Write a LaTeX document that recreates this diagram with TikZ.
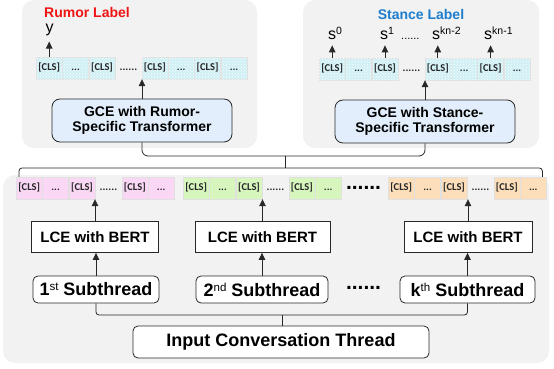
\documentclass[tikz,border=0pt]{standalone}
\usepackage{fontspec}
\setmainfont{Liberation Sans}
\newfontfamily\clsfont{Carlito}
\usetikzlibrary{arrows.meta,patterns,calc}
\definecolor{panelgray}{RGB}{242,242,242}
\definecolor{cyanfill}{RGB}{208,240,245}
\definecolor{pinkfill}{RGB}{250,215,245}
\definecolor{greenfill}{RGB}{214,246,190}
\definecolor{orangefill}{RGB}{252,222,186}
\definecolor{gcefill}{RGB}{226,238,252}
\definecolor{rumorred}{RGB}{240,20,20}
\definecolor{stanceblue}{RGB}{30,125,205}
\definecolor{linecol}{RGB}{40,40,40}
\newcommand\supx[1]{\raisebox{5pt}{\fontsize{11.5}{11.5}\mdseries\selectfont #1}}
\newcommand\slab[1]{s\raisebox{5.5pt}{\fontsize{10.5}{10.5}\selectfont #1}}
\newcommand\cellseq[4]{%
  \node[#4,anchor=west] (#1-0) at (#2,#3) {[CLS]};
  \node[#4,anchor=west] (#1-1) at (#1-0.east) {...};
  \node[#4,anchor=west] (#1-2) at (#1-1.east) {[CLS]};
  \node[gapcell,anchor=west] (#1-3) at (#1-2.east) {......};
  \node[#4,anchor=west] (#1-4) at (#1-3.east) {[CLS]};
  \node[#4,anchor=west] (#1-5) at (#1-4.east) {...};
}
\begin{document}
\begin{tikzpicture}[x=1pt,y=-1pt,
  cellbase/.style={minimum width=26pt, minimum height=22pt, inner sep=0pt,
    text height=7.5pt, text depth=2.5pt, draw=black!12, line width=0.4pt,
    font=\clsfont\bfseries\fontsize{10.5}{10.5}\selectfont, text=black!85},
  gapcell/.style={minimum width=26pt, minimum height=22pt, inner sep=0pt,
    text height=7.5pt, text depth=2.5pt,
    font=\clsfont\bfseries\fontsize{11}{11}\selectfont, text=black!85},
  cyancell/.style={cellbase, fill=cyanfill, postaction={pattern=crosshatch dots, pattern color=white!90!cyanfill}},
  pinkcell/.style={cellbase, fill=pinkfill},
  greencell/.style={cellbase, fill=greenfill},
  orangecell/.style={cellbase, fill=orangefill},
  gcebox/.style={draw=linecol, line width=0.8pt, fill=gcefill, rounded corners=8pt,
    minimum width=180pt, minimum height=43pt, align=center, inner sep=0pt,
    font=\bfseries\fontsize{14}{15.5}\selectfont},
  lcebox/.style={draw=linecol, line width=0.8pt, fill=white, minimum height=31pt, inner sep=0pt,
    font=\bfseries\fontsize{15}{15}\selectfont},
  subbox/.style={draw=linecol, line width=0.8pt, fill=white, rounded corners=5pt,
    minimum height=27pt, inner sep=0pt, font=\bfseries\fontsize{18}{18}\selectfont},
  conn/.style={draw=linecol, line width=0.8pt},
  arr/.style={conn, -{Triangle[length=7pt,width=6.5pt]}},
  biglbl/.style={font=\bfseries\fontsize{14}{14}\selectfont},
  outlbl/.style={anchor=base west, inner sep=0pt, font=\fontsize{16}{16}\selectfont},
  bigdots/.style={inner sep=0pt, font=\bfseries\fontsize{21}{21}\selectfont}
]
\useasboundingbox (0,0) rectangle (554,369);
% panels
\fill[panelgray, rounded corners=12pt] (22,0) rectangle (257,148);
\fill[panelgray, rounded corners=12pt] (303,0) rectangle (539,148);
\fill[panelgray, rounded corners=12pt] (3,175) rectangle (549,363);

% labels
\node[biglbl, text=rumorred] (RL) at (87,12) {Rumor Label};
\node[biglbl, text=stanceblue] (SL) at (421,14.5) {Stance Label};

% rumor row
\cellseq{r}{36}{68}{cyancell}
\node[cyancell,anchor=west] (r-6) at (r-5.east) {[CLS]};
\node[cyancell,anchor=west] (r-7) at (r-6.east) {...};
% stance row
\cellseq{s}{319}{69}{cyancell}
\node[cyancell,anchor=west] (s-6) at (s-5.east) {[CLS]};
\node[cyancell,anchor=west] (s-7) at (s-6.east) {...};

% output labels
\node[outlbl] (ly) at (45.5,33) {y};
\node[outlbl] (l0) at (328,40) {\slab{0}};
\node[outlbl] (l1) at (380,40) {\slab{1}};
\node[anchor=base west, inner sep=0pt, font=\fontsize{11}{11}\selectfont] (ld) at (401,40) {......};
\node[outlbl] (l2) at (432,40) {\slab{kn-2}};
\node[outlbl] (l3) at (484,40) {\slab{kn-1}};
\draw[arr, shorten >=5pt] (r-0.north) -- (r-0.north |- ly.south);
\draw[arr, shorten >=5pt] (s-0.north) -- (s-0.north |- l0.south);
\draw[arr, shorten >=5pt] (s-2.north) -- (s-2.north |- l1.south);
\draw[arr, shorten >=5pt] (s-4.north) -- (s-4.north |- l2.south);
\draw[arr, shorten >=5pt] (s-6.north) -- (s-6.north |- l3.south);

% GCE boxes
\node[gcebox] (GR) at (142,120.5) {GCE with Rumor-\\Specific Transformer};
\node[gcebox] (GS) at (425,121.5) {GCE with Stance-\\Specific Transformer};
\draw[arr] (GR.north) -- (GR.north |- r-4.south);
\draw[arr] (GS.north) -- (GS.north |- s-4.south);

% bottom rows
\cellseq{p}{16}{188}{pinkcell}
\cellseq{g}{183}{188}{greencell}
\cellseq{o}{388}{188}{orangecell}
\node[bigdots] (bd1) at (363.5,188) {......};

% brackets top
\coordinate (jt) at (285,156);
\coordinate (jb) at (285,168);
\draw[conn, rounded corners=6pt] (GR.south) |- (jt) -| (GS.south);
\draw[conn] (jt) -- (jb);
\coordinate (bl) at ([xshift=3pt]p-0.north west);
\coordinate (br) at ([xshift=-4pt]o-5.north east);
\draw[conn, rounded corners=3pt] (bl) |- (jb) -| (br);

% LCE boxes
\node[lcebox, minimum width=127pt] (L1) at (95,237) {LCE with BERT};
\node[lcebox, minimum width=135pt] (L2) at (262.5,237) {LCE with BERT};
\node[lcebox, minimum width=128pt] (L3) at (468,237) {LCE with BERT};
\draw[arr] (L1.north) -- (L1.north |- p-2.south);
\draw[arr] (L2.north) -- (L2.north |- g-2.south);
\draw[arr] (L3.north) -- (L3.north |- o-2.south);

% subthreads
\node[subbox, minimum width=126pt] (S1) at (96,289.5) {1\supx{st} Subthread};
\node[subbox, minimum width=132pt] (S2) at (262,289.5) {2\supx{nd} Subthread};
\node[subbox, minimum width=135pt] (S3) at (467.5,289.5) {k\supx{th} Subthread};
\node[bigdots] (bd2) at (363.5,288) {......};
\draw[arr] (S1.north) -- (S1.north |- L1.south);
\draw[arr] (S2.north) -- (S2.north |- L2.south);
\draw[arr] (S3.north) -- (S3.north |- L3.south);

% input
\node[subbox, minimum width=296pt, minimum height=32pt] (inp) at (281,342) {Input Conversation Thread};
\coordinate (jm) at (282,315);
\draw[conn, rounded corners=3pt] (S1.south) |- (jm) -| (S3.south);
\draw[conn] (jm) -- (jm |- inp.north);
\end{tikzpicture}
\end{document}
